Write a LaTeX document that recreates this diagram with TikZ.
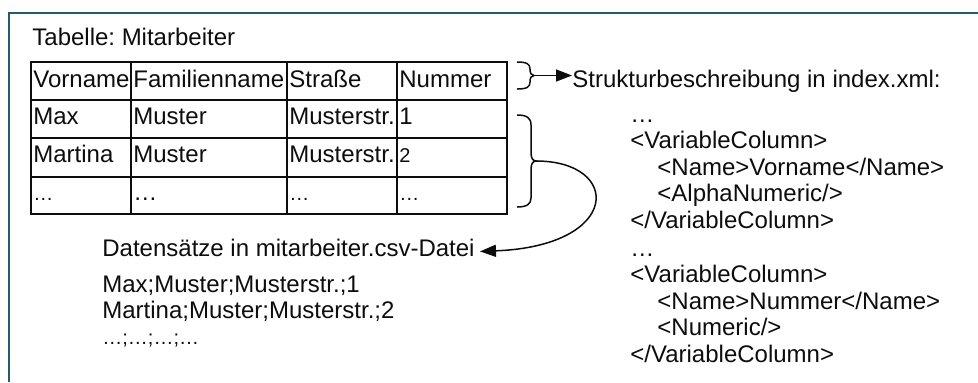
\documentclass[tikz,border=0pt]{standalone}
\usepackage{fontspec}
\setmainfont{Liberation Sans}
\usetikzlibrary{arrows.meta}
\definecolor{frameTeal}{RGB}{36,92,108}
\definecolor{mainBlack}{gray}{0.05}
\frenchspacing

\begin{document}
\begin{tikzpicture}[x=0.5pt, y=-0.5pt, >={Triangle[length=8pt, width=6pt]},
    txt/.style={anchor=base west, inner sep=1pt, text=mainBlack, font=\fontsize{12}{14}\selectfont},
    klein/.style={txt, font=\fontsize{10}{12}\selectfont},
    tabline/.style={mainBlack, line width=1pt, line cap=rect},
    linie/.style={mainBlack, line width=0.75pt}]
    \useasboundingbox (0,0) rectangle (978,382);

    % Rahmen
    \draw[frameTeal, line width=1.2pt] (9,382) -- (9,13) -- (978,13);

    \node[txt] (titel) at (30,45) {Tabelle: Mitarbeiter};

    % Tabelle
    \foreach \x in {31,131,287,397,507}
        \draw[tabline] (\x,62) -- (\x,214);
    \foreach \y in {62,100,138,177,214}
        \draw[tabline] (31,\y) -- (507,\y);

    \node[txt] (kopf1) at (31,87) {Vorname};
    \node[txt] (kopf2) at (131,87) {Familienname};
    \node[txt] (kopf3) at (287,87) {Straße};
    \node[txt] (kopf4) at (397,87) {Nummer};

    \node[txt] (max1) at (31,124) {Max};
    \node[txt] (max2) at (131,124) {Muster};
    \node[txt] (max3) at (287,124) {Musterstr.};
    \node[txt] (max4) at (397,124) {1};

    \node[txt] (martina1) at (31,162) {Martina};
    \node[txt] (martina2) at (131,162) {Muster};
    \node[txt] (martina3) at (287,162) {Musterstr.};
    \node[klein] (martina4) at (397,162) {2};

    \node[klein] (rest1) at (31,200) {…};
    \node[txt] (rest2) at (131,200) {…};
    \node[klein] (rest3) at (287,200) {…};
    \node[klein] (rest4) at (397,200) {…};

    % Klammern
    \draw[linie] (517,62) .. controls (527,62) and (530,64) .. (530,69)
        .. controls (530,73) and (531,75.5) .. (534,75.5)
        .. controls (531,75.5) and (530,78) .. (530,82)
        .. controls (530,87) and (527,89) .. (517,89);
    \draw[linie] (517,115) .. controls (527,115) and (531,118) .. (531,125)
        -- (531,153) .. controls (531,158) and (533,161) .. (536,161)
        .. controls (533,161) and (531,164) .. (531,169)
        -- (531,198) .. controls (531,204) and (527,207) .. (517,207);
    \coordinate (kopfspitze) at (534,75.5);
    \coordinate (datenspitze) at (536,161);

    % Struktur
    \node[txt] (struktur) at (570,87) {Strukturbeschreibung in index.xml:};
    \draw[->, linie] (kopfspitze) -- ([xshift=1pt]kopfspitze -| struktur.west);

    \foreach \name/\typ [count=\k from 0] in {Vorname/AlphaNumeric, Nummer/Numeric} {
        \node[txt] (pkt\k) at (628,{122+134*\k}) {…};
        \node[txt] (auf\k) at (628,{148.5+134*\k}) {<VariableColumn>};
        \node[txt] (name\k) at (655,{175+134*\k}) {<Name>\name</Name>};
        \node[txt] (typ\k) at (655,{201.5+134*\k}) {<\typ/>};
        \node[txt] (zu\k) at (628,{228+134*\k}) {</VariableColumn>};
    }

    % Datensaetze
    \node[txt] (daten) at (100,256) {Datensätze in mitarbeiter.csv-Datei};
    \draw[->, linie] (datenspitze) .. controls (622,161) and (622,246) .. ([shift={(1.5pt,-2pt)}]daten.east);

    \node[txt] (zeile1) at (100,292) {Max;Muster;Musterstr.;1};
    \node[txt] (zeile2) at (100,318) {Martina;Muster;Musterstr.;2};
    \node[klein] (zeile3) at (100,344) {…;…;…;…};
\end{tikzpicture}
\end{document}
